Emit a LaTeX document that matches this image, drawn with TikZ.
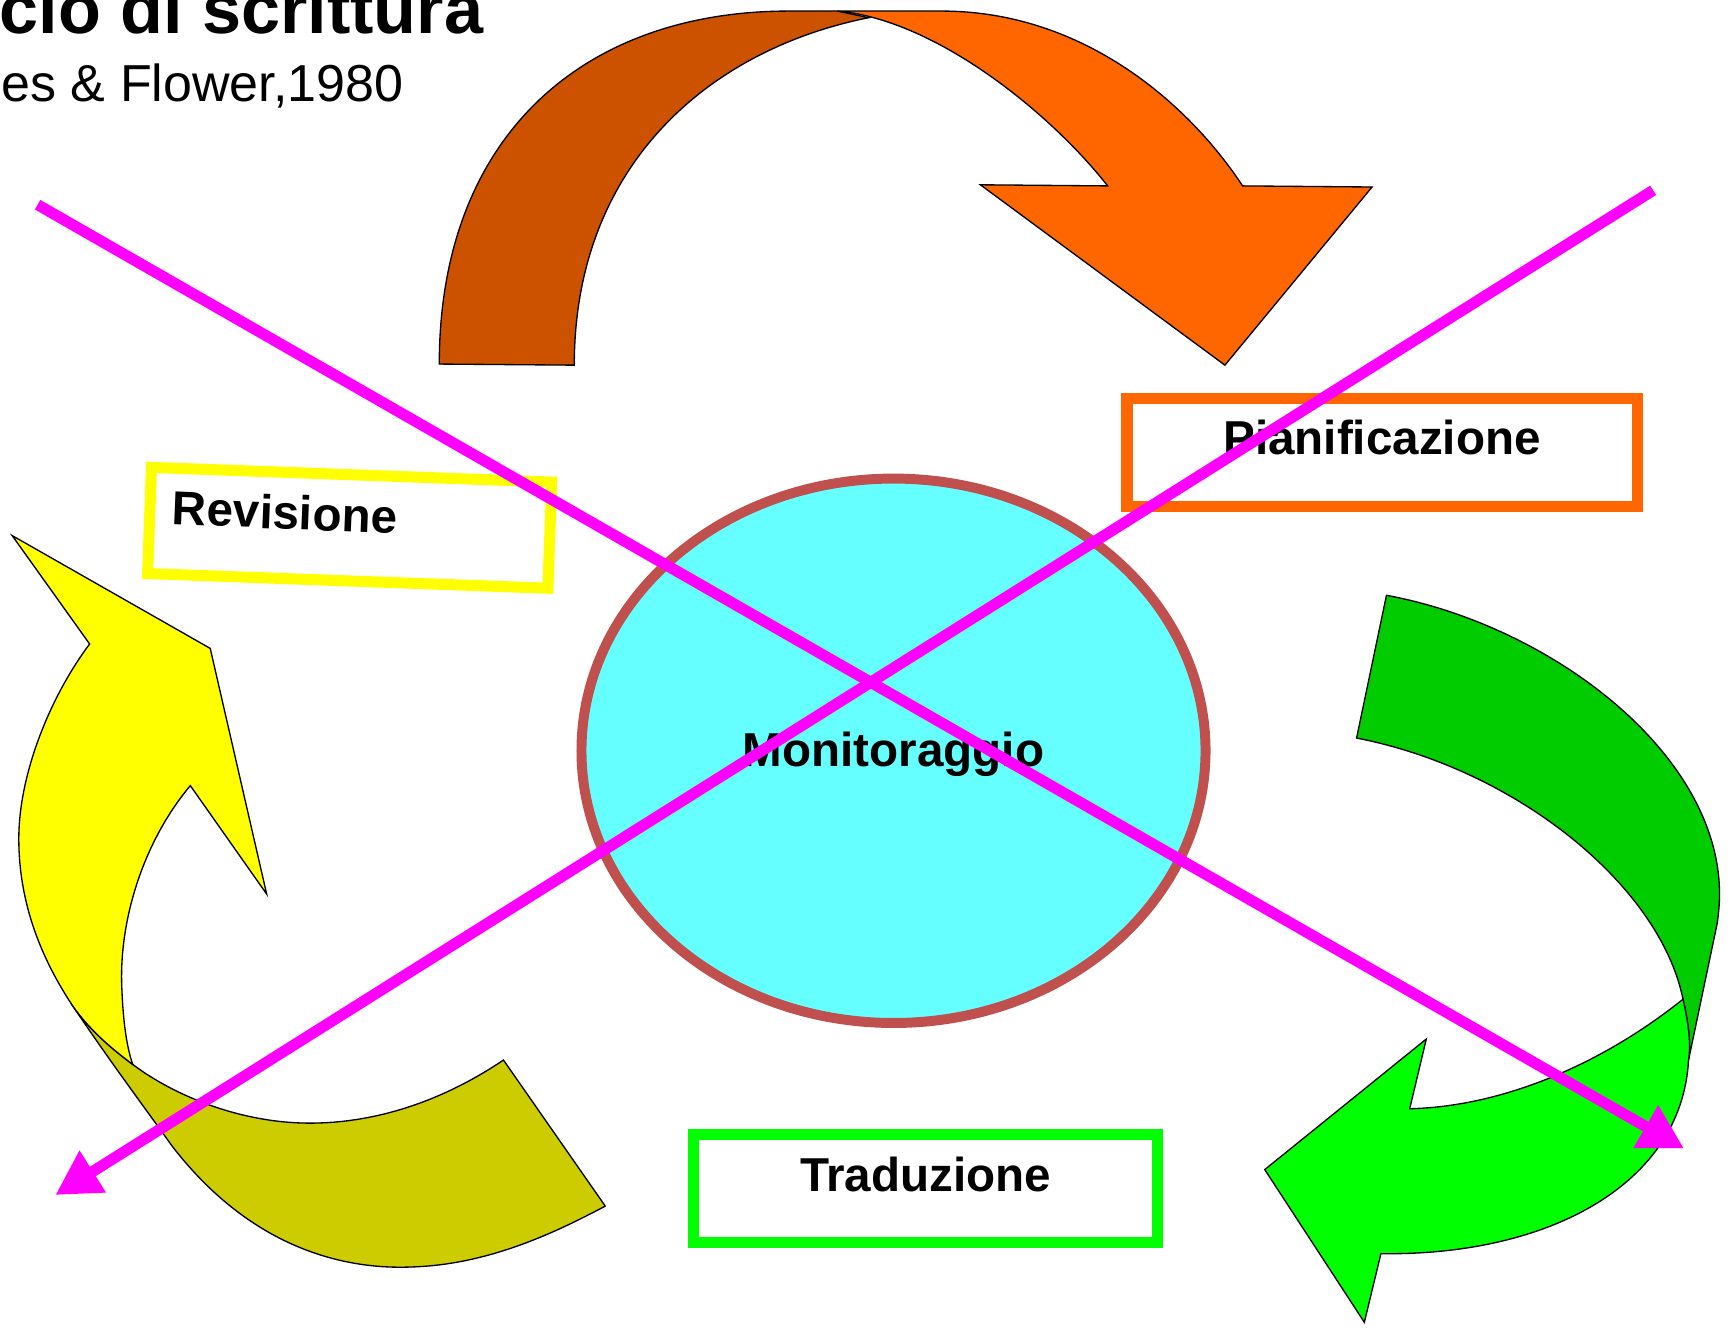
\documentclass[tikz,border=0pt]{standalone}
\usepackage{fontspec}
\setmainfont{Liberation Sans}
\usetikzlibrary{arrows.meta,shapes.geometric}
\definecolor{orangeDark}{HTML}{CC5200}
\definecolor{orangeLight}{HTML}{FF6600}
\definecolor{yellowDark}{HTML}{CCCC00}
\definecolor{yellowLight}{HTML}{FFFF00}
\definecolor{greenDark}{HTML}{00CC00}
\definecolor{greenLight}{HTML}{00FF00}
\definecolor{cyanFill}{HTML}{66FFFF}
\definecolor{brickRed}{HTML}{C0504D}
\definecolor{magentaLine}{HTML}{FF00FF}
\begin{document}
\begin{tikzpicture}[x=0.5pt,y=-0.5pt,
  ribbon/.style={draw=black,line width=0.6pt,line join=miter},
  labelbox/.style={draw,line width=5pt,fill=white,inner sep=0pt},
  labeltext/.style={font=\fontsize{21.5pt}{26pt}\selectfont\bfseries,inner sep=0pt},
  crossline/.style={draw=magentaLine,line width=5pt,-{Triangle[length=20pt,width=21pt]}}
]
\useasboundingbox (0,0) rectangle (1568,1200);

% heading
\node[font=\fontsize{31.7pt}{36pt}\selectfont\bfseries,anchor=base east,inner sep=0pt] (title) at (437,30) {cio di scrittura};
\node[font=\fontsize{23.5pt}{28pt}\selectfont,anchor=base east,inner sep=0pt] (subtitle) at (365,92) {es \& Flower,1980};

% orange curved arrow (top)
\draw[ribbon,fill=orangeDark] (397,329) .. controls (397,125) and (525,10) .. (713,10)
  -- (757,10) -- (785,16) .. controls (640,45) and (519,150) .. (519,330) -- cycle;
\draw[ribbon,fill=orangeLight] (757,10) -- (851,10) .. controls (980,10) and (1075,95) .. (1123,168)
  -- (1240,169) -- (1107,330) -- (886,167) -- (1001,168)
  .. controls (951,104) and (847,18) .. (757,10) -- cycle;

% yellow curved arrow (left)
\draw[ribbon,fill=yellowDark] (65,908) .. controls (100,960) and (130,1000) .. (155,1035)
  .. controls (220,1120) and (300,1148) .. (372,1145)
  .. controls (440,1143) and (500,1115) .. (547,1090) -- (455,958)
  .. controls (400,995) and (340,1015) .. (280,1015)
  .. controls (220,1015) and (160,992) .. (120,962)
  .. controls (100,947) and (80,930) .. (65,908) -- cycle;
\draw[ribbon,fill=yellowLight] (65,908) .. controls (40,870) and (17,820) .. (17,758)
  .. controls (17,700) and (45,630) .. (81,582) -- (11,484) -- (190,586) -- (241,808) -- (172,710)
  .. controls (130,760) and (108,830) .. (110,890)
  .. controls (111,920) and (114,945) .. (120,962)
  .. controls (100,947) and (80,930) .. (65,908) -- cycle;

% green curved arrow (right)
\draw[ribbon,fill=greenDark] (1253,538) .. controls (1400,565) and (1554,680) .. (1554,808)
  .. controls (1554,818) and (1553,826) .. (1552,834) -- (1526,958)
  .. controls (1528,945) and (1527,930) .. (1521,903)
  .. controls (1500,800) and (1370,695) .. (1226,667) -- cycle;
\draw[ribbon,fill=greenLight] (1521,903) .. controls (1450,960) and (1360,1000) .. (1274,1002)
  -- (1289,939) -- (1143,1057) -- (1233,1195) -- (1248,1133)
  .. controls (1400,1135) and (1520,1070) .. (1526,958)
  .. controls (1528,945) and (1527,930) .. (1521,903) -- cycle;

% phase boxes
\node[labelbox,draw=orangeLight,minimum width=230.5pt,minimum height=48.5pt] (pian) at (1249,409) {};
\node[labeltext,anchor=base] (pianText) at (1249,411) {Pianificazione};

\node[labelbox,draw=yellowLight,minimum width=181pt,minimum height=48pt,rotate=-2.1] (rev) at (316,477) {};
\node[labeltext,anchor=base west,rotate=-2.3] (revText) at (155,474) {Revisione};

\node[labelbox,draw=greenLight,minimum width=209.5pt,minimum height=49pt] (trad) at (836.5,1074) {};
\node[labeltext,anchor=base] (tradText) at (836.5,1077) {Traduzione};

% central ellipse
\node[ellipse,draw=brickRed,fill=cyanFill,line width=4.5pt,minimum width=282pt,minimum height=246pt,inner sep=0pt] (mon) at (807.5,678.5) {};
\node[labeltext,anchor=base] (monText) at (807.5,693) {Monitoraggio};

% crossing arrows
\coordinate (crossAstart) at (34,185);
\coordinate (crossAend) at (1522,1038);
\coordinate (crossBstart) at (1494,172);
\coordinate (crossBend) at (50,1080);
\draw[crossline] (crossAstart) -- (crossAend);
\draw[crossline] (crossBstart) -- (crossBend);
\end{tikzpicture}
\end{document}
